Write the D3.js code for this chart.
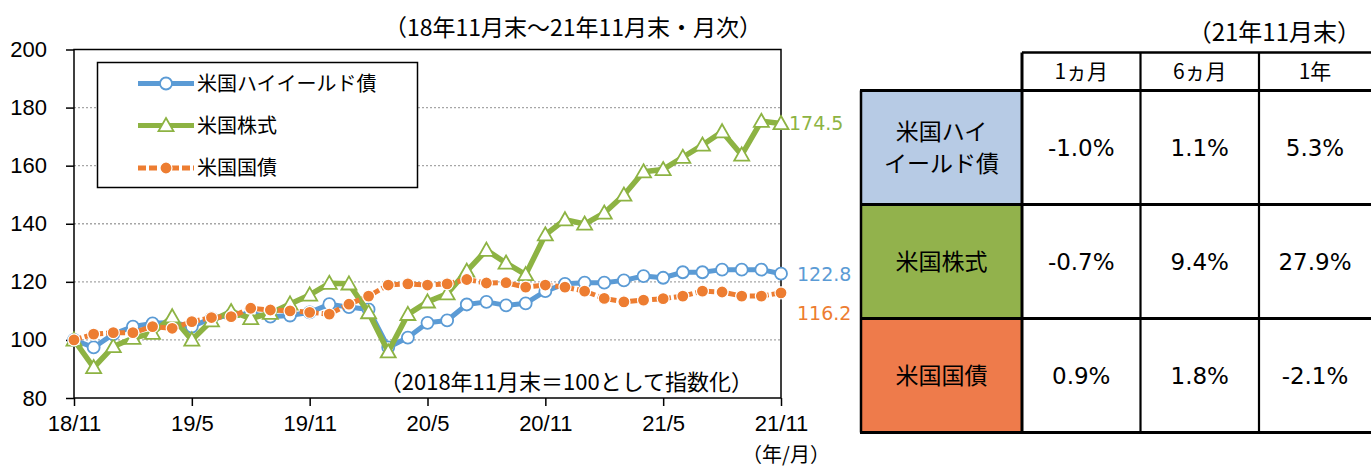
<!DOCTYPE html>
<html>
<head>
<meta charset="utf-8">
<script src="https://cdn.jsdelivr.net/npm/d3@7"></script>
<style>
body { margin: 0; background: #fff; }
svg { display: block; }
</style>
</head>
<body>
<div id="chart"></div>
<script>
// monthly index, 18/11 = 100
var months = ["18/11","18/12","19/1","19/2","19/3","19/4","19/5","19/6","19/7","19/8","19/9","19/10",
  "19/11","19/12","20/1","20/2","20/3","20/4","20/5","20/6","20/7","20/8","20/9","20/10",
  "20/11","20/12","21/1","21/2","21/3","21/4","21/5","21/6","21/7","21/8","21/9","21/10","21/11"];
var tickLabels = ["18/11","19/5","19/11","20/5","20/11","21/5","21/11"];
var yTicks = [80, 100, 120, 140, 160, 180, 200];

var highYield = [100, 97.4, 102, 104.6, 105.7, 106, 104.6, 107.4, 108.6, 109, 108, 108.4,
  109.5, 112.3, 111.3, 110.5, 97.4, 100.8, 105.9, 106.7, 112.2, 113.1, 111.9, 112.6,
  116.8, 119.3, 119.7, 119.7, 120.5, 122, 121.4, 123.3, 123.3, 124.2, 124.2, 124.2, 122.8];
var stocks = [100, 90.5, 97.7, 100.6, 102.3, 108, 100, 106.6, 109.8, 107.4, 109.2, 112.4,
  115.5, 119.5, 119.3, 109.4, 95.9, 108.8, 113.1, 115.9, 123.7, 130.9, 126.5, 122.5,
  136.2, 141.4, 139.9, 143.7, 149.9, 157.9, 158.7, 162.9, 167.1, 171.7, 163.7, 175.3, 174.5];
var treasury = [100, 102, 102.5, 102.5, 104.6, 104, 106.3, 107.7, 108, 110.9, 110.3, 110,
  109.5, 108.9, 112.3, 115.1, 118.9, 119.3, 118.9, 119.3, 120.8, 119.6, 119.7, 118.2,
  118.9, 118.2, 116.8, 114.3, 113.1, 113.7, 114.2, 115.1, 116.8, 116.5, 115.1, 115.1, 116.2];

var seriesNames = ["米国ハイイールド債", "米国株式", "米国国債"];
var endLabels = ["122.8", "174.5", "116.2"];

// table (21年11月末)
var periods = ["1ヵ月", "6ヵ月", "1年"];
var rowNames = [["米国ハイ", "イールド債"], ["米国株式"], ["米国国債"]];
var hyReturns = ["-1.0%", "1.1%", "5.3%"];
var stockReturns = ["-0.7%", "9.4%", "27.9%"];
var treasuryReturns = ["0.9%", "1.8%", "-2.1%"];

var colors = { blue: "#5B9BD5", green: "#8DB343", orange: "#ED7D31" };
var cellColors = ["#B7CBE5", "#92B24C", "#EE7B4B"];
var jp = "'Noto Sans CJK JP', sans-serif";
var sans = "'Liberation Sans', sans-serif";
var verd = "'DejaVu Sans', 'Noto Sans CJK JP', sans-serif";

var W = 1371, H = 469;
var plot = {left: 74, right: 781, top: 49.5, bottom: 398};

var svg = d3.select("#chart").append("svg")
    .attr("width", W).attr("height", H);

var x = d3.scaleLinear().domain([0, months.length - 1]).range([plot.left, plot.right]);
var y = d3.scaleLinear().domain([80, 200]).range([plot.bottom, plot.top]);

// grid
svg.append("g").selectAll("line")
  .data(yTicks.filter(function(d) { return d > 80 && d < 200; }))
  .enter().append("line")
    .attr("x1", plot.left).attr("x2", plot.right)
    .attr("y1", function(d) { return y(d); }).attr("y2", function(d) { return y(d); })
    .attr("stroke", "#a6a6a6").attr("stroke-width", 1.3)
    .attr("stroke-dasharray", "2,2");

// plot frame
svg.append("rect")
    .attr("x", plot.left).attr("y", plot.top)
    .attr("width", plot.right - plot.left).attr("height", plot.bottom - plot.top)
    .attr("fill", "none").attr("stroke", "#000").attr("stroke-width", 1.5);

// y axis
var yAxis = d3.axisLeft(y).tickValues(yTicks).tickSize(8).tickPadding(19);
var gy = svg.append("g").attr("transform", "translate(" + plot.left + ",0)").call(yAxis);
gy.select(".domain").remove();
gy.selectAll("line").attr("stroke", "#000").attr("stroke-width", 1.5);
gy.selectAll("text").style("font-family", sans).style("font-size", "22px").attr("fill", "#000");

// x axis
var xAxis = d3.axisBottom(x)
    .tickValues(tickLabels.map(function(t) { return months.indexOf(t); }))
    .tickFormat(function(i) { return months[i]; })
    .tickSize(8).tickPadding(9);
var gx = svg.append("g").attr("transform", "translate(0," + plot.bottom + ")").call(xAxis);
gx.select(".domain").remove();
gx.selectAll("line").attr("stroke", "#000").attr("stroke-width", 1.5);
gx.selectAll("text").style("font-family", sans).style("font-size", "22px").attr("fill", "#000");

var line = d3.line()
    .x(function(d, i) { return x(i); })
    .y(function(d) { return y(d); });

function triangle(cx, cy) {
  var s = 7.5;
  return "M" + cx + "," + (cy - s) + "L" + (cx + s) + "," + (cy + s * 0.75) + "L" + (cx - s) + "," + (cy + s * 0.75) + "Z";
}

// high yield
svg.append("path").datum(highYield).attr("d", line)
  .attr("fill", "none").attr("stroke", colors.blue).attr("stroke-width", 5).attr("stroke-linejoin", "round");
svg.append("g").selectAll("circle").data(highYield).enter().append("circle")
  .attr("cx", function(d, i) { return x(i); }).attr("cy", function(d) { return y(d); })
  .attr("r", 6).attr("fill", "#fff").attr("stroke", colors.blue).attr("stroke-width", 1.8);

// stocks
svg.append("path").datum(stocks).attr("d", line)
  .attr("fill", "none").attr("stroke", colors.green).attr("stroke-width", 5.5).attr("stroke-linejoin", "round");
svg.append("g").selectAll("path").data(stocks).enter().append("path")
  .attr("d", function(d, i) { return triangle(x(i), y(d)); })
  .attr("fill", "#fff").attr("stroke", colors.green).attr("stroke-width", 1.8);

// treasury
svg.append("path").datum(treasury).attr("d", line)
  .attr("fill", "none").attr("stroke", colors.orange).attr("stroke-width", 5).attr("stroke-dasharray", "8,3");
svg.append("g").selectAll("circle").data(treasury).enter().append("circle")
  .attr("cx", function(d, i) { return x(i); }).attr("cy", function(d) { return y(d); })
  .attr("r", 6).attr("fill", colors.orange).attr("stroke", "#fff").attr("stroke-width", 1.2);

// end labels
var last = months.length - 1;
var endData = [
  {v: highYield[last], t: endLabels[0], c: colors.blue, dx: 16, dy: 1},
  {v: stocks[last], t: endLabels[1], c: colors.green, dx: 8, dy: 0},
  {v: treasury[last], t: endLabels[2], c: colors.orange, dx: 16, dy: 20}
];
svg.append("g").selectAll("text").data(endData).enter().append("text")
  .attr("x", function(d) { return x(last) + d.dx; })
  .attr("y", function(d) { return y(d.v) + d.dy; })
  .attr("dy", "0.35em")
  .attr("fill", function(d) { return d.c; })
  .style("font-family", verd).style("font-size", "19px")
  .text(function(d) { return d.t; });

// legend
var lg = svg.append("g");
lg.append("rect").attr("x", 97.5).attr("y", 62.5).attr("width", 320).attr("height", 125)
  .attr("fill", "#fff").attr("stroke", "#000").attr("stroke-width", 1.5);
var legendRows = [83.5, 125.5, 168];
legendRows.forEach(function(ly, k) {
  var col = [colors.blue, colors.green, colors.orange][k];
  var ln = lg.append("line").attr("x1", 138).attr("x2", 194).attr("y1", ly).attr("y2", ly)
    .attr("stroke", col).attr("stroke-width", 5);
  if (k === 2) ln.attr("stroke-dasharray", "8,3");
  if (k === 0) lg.append("circle").attr("cx", 166).attr("cy", ly).attr("r", 6)
    .attr("fill", "#fff").attr("stroke", col).attr("stroke-width", 1.8);
  if (k === 1) lg.append("path").attr("d", triangle(166, ly))
    .attr("fill", "#fff").attr("stroke", col).attr("stroke-width", 1.8);
  if (k === 2) lg.append("circle").attr("cx", 166).attr("cy", ly).attr("r", 6)
    .attr("fill", col).attr("stroke", "#fff").attr("stroke-width", 1.2);
  lg.append("text").attr("x", 197).attr("y", ly).attr("dy", "0.36em")
    .style("font-family", jp).style("font-size", "20px").text(seriesNames[k]);
});

// notes
svg.append("text").attr("x", 573).attr("y", 28).attr("text-anchor", "middle").attr("dy", "0.35em")
  .style("font-family", jp).style("font-size", "23px")
  .text("（18年11月末～21年11月末・月次）");
svg.append("text").attr("x", 753).attr("y", 382).attr("text-anchor", "end").attr("dy", "0.35em")
  .style("font-family", jp).style("font-size", "22px")
  .text("（2018年11月末＝100として指数化）");
svg.append("text").attr("x", 786).attr("y", 455).attr("text-anchor", "middle").attr("dy", "0.35em")
  .style("font-family", jp).style("font-size", "20px")
  .text("（年/月）");

// table
var tb = svg.append("g");
var colX = [861, 1022, 1140.5, 1259, 1371];
var rowY = [52.5, 90.5, 204.5, 318.5, 432.5];
var tableRows = [hyReturns, stockReturns, treasuryReturns];

tb.append("text").attr("x", 1361).attr("y", 33).attr("text-anchor", "end").attr("dy", "0.35em")
  .style("font-family", jp).style("font-size", "24px").text("（21年11月末）");

tableRows.forEach(function(r, k) {
  tb.append("rect").attr("x", colX[0]).attr("y", rowY[k + 1])
    .attr("width", colX[1] - colX[0]).attr("height", rowY[k + 2] - rowY[k + 1])
    .attr("fill", cellColors[k]);
  var nm = rowNames[k];
  var cy = (rowY[k + 1] + rowY[k + 2]) / 2;
  nm.forEach(function(s, j) {
    tb.append("text").attr("x", (colX[0] + colX[1]) / 2)
      .attr("y", cy + (j - (nm.length - 1) / 2) * 32).attr("dy", "0.36em")
      .attr("text-anchor", "middle")
      .style("font-family", jp).style("font-size", "23px").text(s);
  });
  r.forEach(function(v, c) {
    tb.append("text").attr("x", (colX[c + 1] + colX[c + 2]) / 2).attr("y", cy).attr("dy", "0.36em")
      .attr("text-anchor", "middle")
      .style("font-family", verd).style("font-size", "23px").text(v);
  });
});
periods.forEach(function(p, c) {
  tb.append("text").attr("x", (colX[c + 1] + colX[c + 2]) / 2).attr("y", (rowY[0] + rowY[1]) / 2)
    .attr("dy", "0.36em").attr("text-anchor", "middle")
    .style("font-family", jp).style("font-size", "21px").text(p);
});

// table rules
tb.append("line").attr("x1", colX[1]).attr("x2", W).attr("y1", rowY[0]).attr("y2", rowY[0])
  .attr("stroke", "#000").attr("stroke-width", 2.5);
rowY.slice(1).forEach(function(ry) {
  tb.append("line").attr("x1", colX[0] - 1).attr("x2", W).attr("y1", ry).attr("y2", ry)
    .attr("stroke", "#000").attr("stroke-width", 3);
});
tb.append("line").attr("x1", colX[0]).attr("x2", colX[0]).attr("y1", rowY[1]).attr("y2", rowY[4])
  .attr("stroke", "#000").attr("stroke-width", 2.5);
colX.slice(1, 4).forEach(function(cx, c) {
  tb.append("line").attr("x1", cx).attr("x2", cx).attr("y1", rowY[0]).attr("y2", rowY[4])
    .attr("stroke", "#000").attr("stroke-width", c === 0 ? 3 : 2.2);
});
</script>
</body>
</html>
